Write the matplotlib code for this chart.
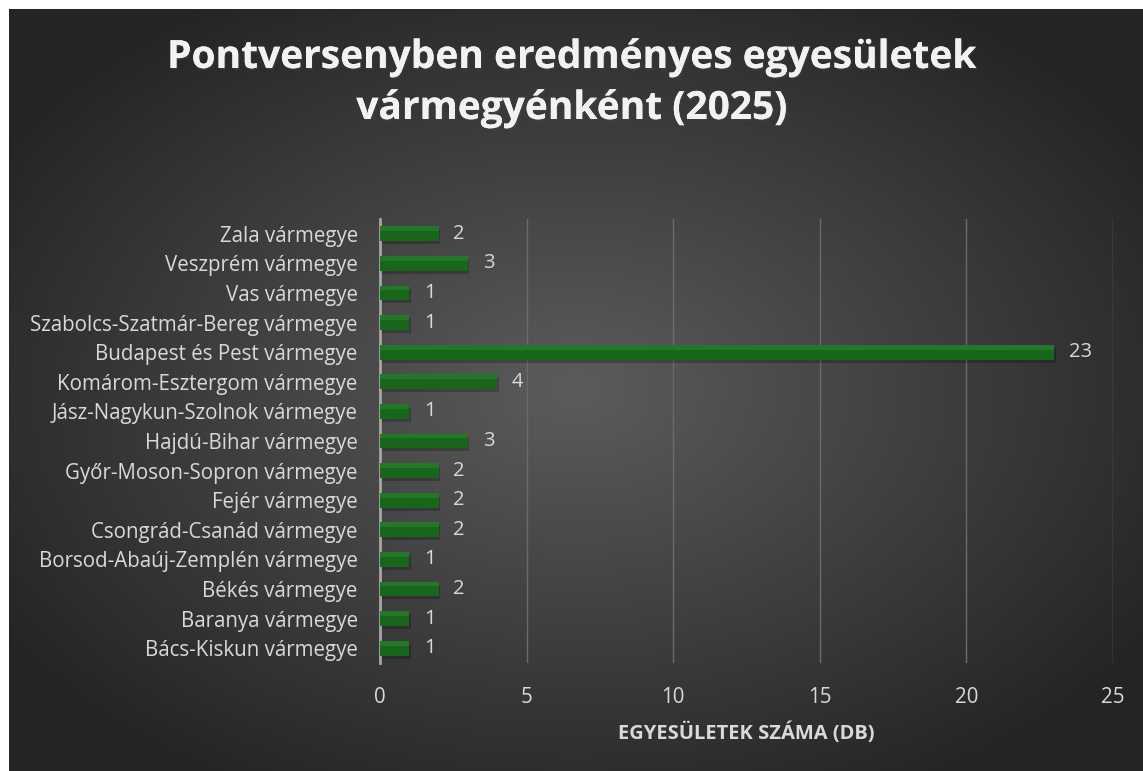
import numpy as np
import matplotlib.pyplot as plt
import matplotlib.patheffects as pe

counties = ['Bács-Kiskun vármegye', 'Baranya vármegye', 'Békés vármegye',
            'Borsod-Abaúj-Zemplén vármegye', 'Csongrád-Csanád vármegye',
            'Fejér vármegye', 'Győr-Moson-Sopron vármegye', 'Hajdú-Bihar vármegye',
            'Jász-Nagykun-Szolnok vármegye', 'Komárom-Esztergom vármegye',
            'Budapest és Pest vármegye', 'Szabolcs-Szatmár-Bereg vármegye',
            'Vas vármegye', 'Veszprém vármegye', 'Zala vármegye']
clubs = [1, 1, 2, 1, 2, 2, 2, 3, 1, 4, 23, 1, 1, 3, 2]
xticks = [0, 5, 10, 15, 20, 25]

title = 'Pontversenyben eredményes egyesületek\nvármegyénként (2025)'
xlabel = 'EGYESÜLETEK SZÁMA (DB)'

plt.rcParams['font.family'] = ['Open Sans', 'DejaVu Sans']

W, H = 1143, 771
fig = plt.figure(figsize=(W / 100, H / 100), dpi=100)
fig.patch.set_facecolor('white')

# dark radial gradient background (white strip on top/left)
bg = fig.add_axes([9 / W, 0, 1 - 9 / W, 1 - 9 / H])
yy, xx = np.mgrid[0:1:300j, 0:1:450j]
r = np.sqrt((xx - 0.5) ** 2 + (yy - 0.5) ** 2)
shade = np.clip(0.36 - 0.36 * r, 0.145, 0.36)
bg.imshow(np.dstack([shade] * 3), extent=[0, 1, 0, 1], aspect='auto', origin='lower')
bg.axis('off')

ax = fig.add_axes([380 / W, 1 - 663 / H, (1113 - 380) / W, (663 - 219) / H])
ax.set_facecolor('none')

y = np.arange(len(counties))
# soft shadow, bar, lighter top edge
ax.barh(y - 0.1, clubs, height=0.5, left=0.05, color='black', alpha=0.22, zorder=2)
ax.barh(y, clubs, height=0.5, color='#17661b', zorder=3)
ax.barh(y + 0.17, clubs, height=0.16, color='#2a7e2f', alpha=0.7, zorder=4)

for yi, v in zip(y, clubs):
    ax.text(v + 0.5, yi, str(v), va='center', ha='left', color='#d9d9d9', fontsize=14.5)

ax.set_xlim(0, 25)
ax.set_ylim(-0.5, len(counties) - 0.5)
ax.set_xticks(xticks)
ax.set_yticks(y)
ax.set_yticklabels(counties)
ax.tick_params(axis='both', length=0, colors='#d9d9d9', labelsize=14.8)
ax.tick_params(axis='x', pad=17)
ax.tick_params(axis='y', pad=16)
ax.xaxis.grid(True, color='#6b6b6b', linewidth=1)
ax.set_axisbelow(True)
for s in ['top', 'right', 'bottom']:
    ax.spines[s].set_visible(False)
ax.spines['left'].set_color('#a6a6a6')
ax.spines['left'].set_linewidth(2)

ax.set_xlabel(xlabel, color='#d9d9d9', fontsize=14.5, fontweight='bold', labelpad=11)

fig.text(0.5, 1 - 83 / H, title, ha='center', va='center', color='#f2f2f2',
         fontsize=28, fontweight='bold', linespacing=1.4,
         path_effects=[pe.withSimplePatchShadow(offset=(1, -1.5), alpha=0.35),
                       pe.Normal()])

fig.savefig('out.png', dpi=100)
